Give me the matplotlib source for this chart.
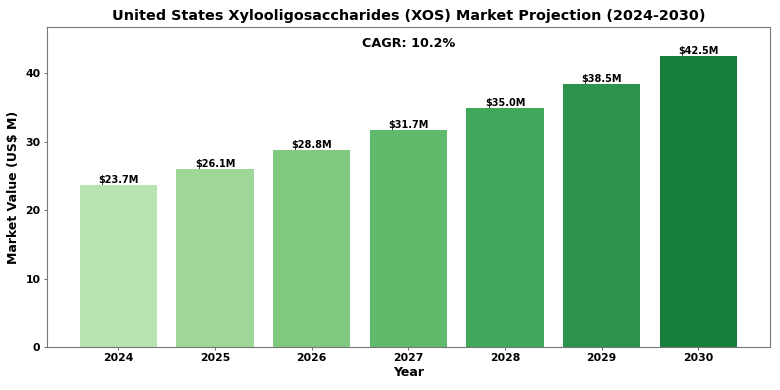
import numpy as np
import matplotlib
matplotlib.use("Agg")
import matplotlib.pyplot as plt

years = ["2024", "2025", "2026", "2027", "2028", "2029", "2030"]
values = [23.7, 26.1, 28.8, 31.7, 35.0, 38.5, 42.5]
cagr_label = "CAGR: 10.2%"

fig, ax = plt.subplots(figsize=(7.8, 3.9), dpi=100)
colors = plt.cm.Greens(np.linspace(0.3, 0.8, len(years)))
bars = ax.bar(years, values, color=colors, width=0.8)
for b, v in zip(bars, values):
    ax.text(b.get_x() + b.get_width() / 2, v, f"${v:.1f}M", ha="center", va="bottom",
            fontsize=7, fontweight="bold")
ax.set_ylim(0, max(values) * 1.1)
ax.set_title("United States Xylooligosaccharides (XOS) Market Projection (2024-2030)",
             fontsize=10.4, fontweight="bold", pad=5)
ax.set_xlabel("Year", fontsize=9, fontweight="bold", labelpad=2)
ax.set_ylabel("Market Value (US$ M)", fontsize=9, fontweight="bold", labelpad=4)
ax.text(0.5, 0.97, cagr_label, transform=ax.transAxes, ha="center", va="top",
        fontsize=9.2, fontweight="bold")
for lab in ax.get_xticklabels() + ax.get_yticklabels():
    lab.set_fontweight("bold")
ax.tick_params(labelsize=7.8, length=2.3, pad=2.3, width=0.55, color="#444444")
for s in ax.spines.values():
    s.set_color("#777777")
    s.set_linewidth(0.8)
fig.subplots_adjust(left=0.06, right=0.987, top=0.93, bottom=0.11)
fig.savefig("out.png")
